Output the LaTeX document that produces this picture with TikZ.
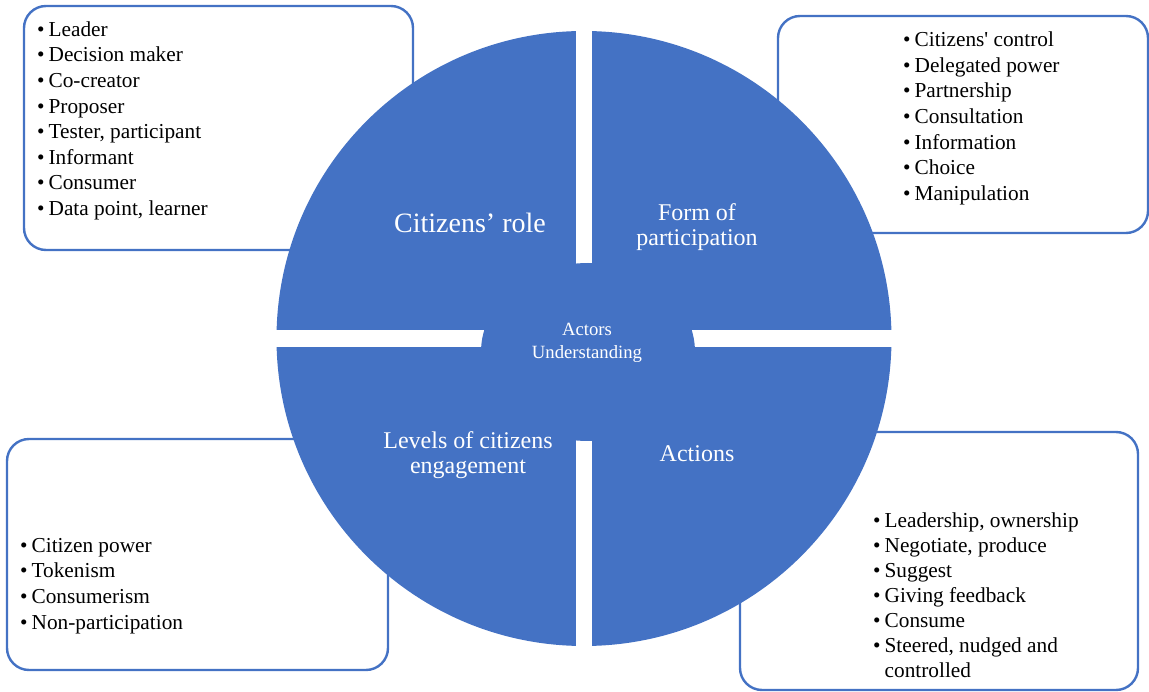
\documentclass[tikz,border=0pt]{standalone}
\usepackage{fontspec}
\setmainfont{Liberation Serif}
\usetikzlibrary{shapes.geometric}
\definecolor{accent}{HTML}{4472C4}
\newcommand{\bul}{•\hspace{4pt}}
\begin{document}
\begin{tikzpicture}[x=1pt,y=-1pt,
  box/.style={draw=accent, line width=2.4pt, rounded corners=22pt, fill=white, inner sep=0},
  listtext/.style={anchor=north west, inner sep=0, align=left, text=black, font=\fontsize{21.3}{25.6}\selectfont},
  seglabel/.style={text=white, align=center, inner sep=0, font=\fontsize{24}{25.5}\selectfont},
]
\useasboundingbox (0,0) rectangle (1149,692);
% boxes
\node[box, minimum width=389pt, minimum height=244pt] (boxrole) at (218.5,128) {};
\node[box, minimum width=370pt, minimum height=217pt] (boxform) at (963,124.5) {};
\node[box, minimum width=381pt, minimum height=231pt] (boxlevels) at (197.5,554.5) {};
\node[box, minimum width=398pt, minimum height=258pt] (boxactions) at (939,561) {};
% lists
\node[listtext] (listrole) at (37,18.1) {\strut\bul Leader\\\bul Decision maker\\\bul Co-creator\\\bul Proposer\\\bul Tester, participant\\\bul Informant\\\bul Consumer\\\bul Data point, learner};
\node[listtext] (listform) at (903,28.6) {\strut\bul Citizens\textquotesingle{} control\\\bul Delegated power\\\bul Partnership\\\bul Consultation\\\bul Information\\\bul Choice\\\bul Manipulation};
\node[listtext] (listlevels) at (20,534.1) {\strut\bul Citizen power\\\bul Tokenism\\\bul Consumerism\\\bul Non-participation};
\node[listtext, font=\fontsize{21.3}{25}\selectfont] (listactions) at (873,509.5) {\strut\bul Leadership, ownership\\\bul Negotiate, produce\\\bul Suggest\\\bul Giving feedback\\\bul Consume\\\bul Steered, nudged and\\\hphantom{\bul}controlled};
% disc
\node[circle, fill=accent, minimum size=615pt, inner sep=0] (disc) at (584,338.5) {};
\fill[white] (576,25) rectangle (592,652);
\fill[white] (270,330) rectangle (897,347);
\node[ellipse, fill=accent, minimum width=214pt, minimum height=178pt, inner sep=0] (hub) at (588,352) {};
% labels
\node[seglabel, anchor=base, font=\fontsize{28}{30}\selectfont] (role) at (470,233) {Citizens’ role};
\node[seglabel, anchor=north] (form) at (697,202.2) {\strut Form of\\participation};
\node[seglabel, anchor=base] (actions) at (697,461) {Actions};
\node[seglabel, anchor=north] (levels) at (468,430.2) {\strut Levels of citizens\\engagement};
\node[seglabel, anchor=north, font=\fontsize{18.7}{23}\selectfont] (actors) at (587,318.9) {\strut Actors\\Understanding};
\end{tikzpicture}
\end{document}
